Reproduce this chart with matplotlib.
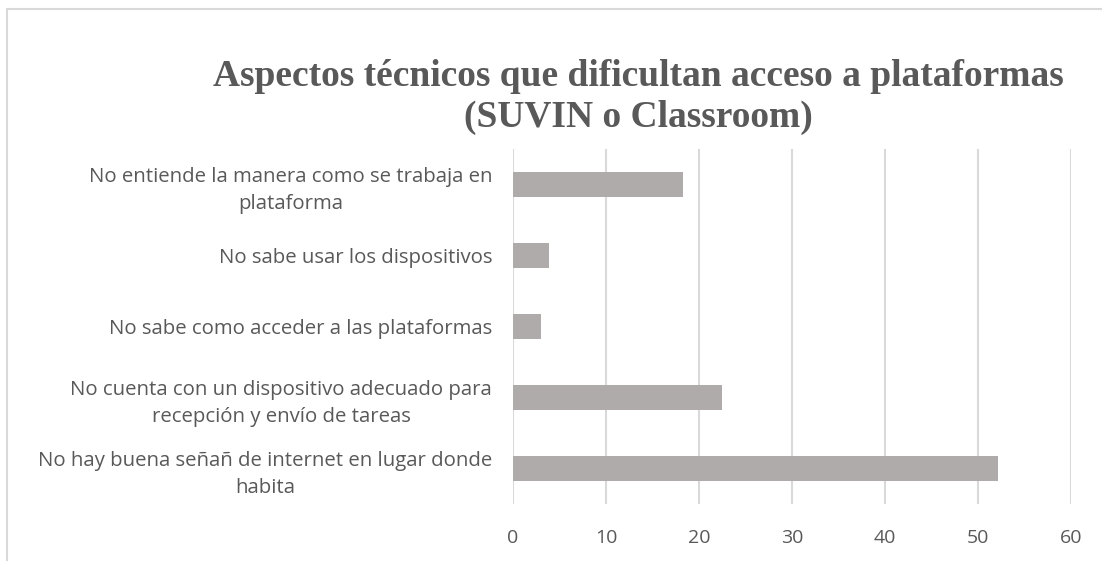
import numpy as np
import matplotlib.pyplot as plt
from matplotlib.patches import Rectangle

categories = [
    "No entiende la manera como se trabaja en\nplataforma",
    "No sabe usar los dispositivos",
    "No sabe como acceder a las plataformas",
    "No cuenta con un dispositivo adecuado para\nrecepción y envío de tareas",
    "No hay buena señañ de internet en lugar donde\nhabita",
]
values = [18.3, 3.9, 3.0, 22.5, 52.2]
xticks = [0, 10, 20, 30, 40, 50, 60]

W, H = 1102, 561
fig = plt.figure(figsize=(W / 100, H / 100), dpi=100)
fig.patch.set_facecolor("white")

# chart border (cropped on right/bottom)
fig.add_artist(Rectangle((7 / W, -0.05), 1.2, 1 - 9 / H + 0.05,
                         transform=fig.transFigure, fill=False,
                         edgecolor="#d9d9d9", linewidth=1.5))

ax = fig.add_axes([513 / W, 1 - 504 / H, (1071 - 513) / W, (504 - 149) / H])
y = np.arange(len(categories))
ax.barh(y, values, height=0.35, color="#afabab")
ax.set_xlim(0, 60)
ax.set_ylim(len(categories) - 0.5, -0.5)
ax.set_xticks(xticks)
ax.set_yticks(y)
ax.set_yticklabels(categories, ha="right", multialignment="center",
                   fontsize=14.7, color="#595959",
                   family=["Open Sans", "DejaVu Sans"], linespacing=1.45)
ax.tick_params(axis="y", length=0, pad=15)
ax.tick_params(axis="x", length=0, pad=18, labelsize=14, labelcolor="#595959")
for lbl in ax.get_xticklabels():
    lbl.set_family(["Open Sans", "DejaVu Sans"])
ax.grid(axis="x", color="#d9d9d9", linewidth=1.5)
ax.set_axisbelow(True)
for s in ax.spines.values():
    s.set_visible(False)

fig.text(638 / W, 1 - 97 / H,
         "Aspectos técnicos que dificultan acceso a plataformas\n(SUVIN o Classroom)",
         ha="center", va="center", fontsize=27, fontweight="bold",
         color="#595959", family="Liberation Serif", linespacing=1.2)

fig.savefig("out.png", dpi=100)
